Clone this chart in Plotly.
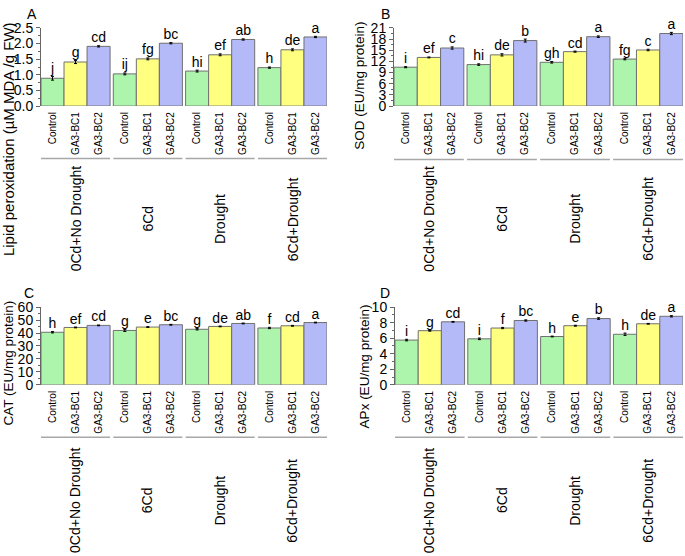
import plotly.graph_objects as go

W, H = 685, 556

groups = ["0Cd+No Drought", "6Cd", "Drought", "6Cd+Drought"]
treatments = ["Control", "GA3-BC1", "GA3-BC2"]
colors = ["#adf5ad", "#ffff80", "#b4b9f7"]

# values per group: [Control, GA3-BC1, GA3-BC2]
lipid = [[0.89, 1.41, 1.91], [1.03, 1.51, 2.01], [1.12, 1.64, 2.13], [1.23, 1.80, 2.21]]
lipid_err = [[0.06, 0.05, 0.02], [0.03, 0.03, 0.02], [0.03, 0.03, 0.02], [0.02, 0.03, 0.02]]
lipid_let = [["j", "g", "cd"], ["ij", "fg", "bc"], ["hi", "ef", "ab"], ["h", "de", "a"]]

sod = [[10.45, 13.07, 15.6], [11.15, 13.76, 17.6], [11.76, 14.63, 18.64], [12.63, 15.07, 19.5]]
sod_err = [[0.15, 0.12, 0.3], [0.2, 0.3, 0.4], [0.2, 0.15, 0.2], [0.2, 0.2, 0.3]]
sod_let = [["i", "ef", "c"], ["hi", "de", "b"], ["gh", "cd", "a"], ["fg", "c", "a"]]

cat = [[40.6, 44.3, 45.9], [42.0, 44.6, 46.4], [42.9, 45.1, 47.4], [43.9, 45.6, 48.1]]
cat_err = [[0.5, 0.3, 0.3], [0.8, 0.3, 0.3], [0.5, 0.3, 0.3], [0.5, 0.3, 0.3]]
cat_let = [["h", "ef", "cd"], ["g", "e", "bc"], ["g", "de", "ab"], ["f", "cd", "a"]]

apx = [[5.76, 6.97, 8.11], [5.92, 7.31, 8.28], [6.22, 7.61, 8.53], [6.51, 7.86, 8.82]]
apx_err = [[0.1, 0.06, 0.05], [0.1, 0.08, 0.08], [0.05, 0.06, 0.1], [0.15, 0.05, 0.08]]
apx_let = [["i", "g", "cd"], ["i", "f", "bc"], ["h", "e", "b"], ["h", "de", "a"]]

panels = [
    dict(letter="A", vals=lipid, err=lipid_err, let=lipid_let, yrange=[0, 2.5], dtick=0.5, fmt=".1f",
         title="Lipid peroxidation (µM MDA /g FW)", tsize=15, tx=8, ty=135,
         xd=(41, 327), yd=(20.5, 101), lx=32, ly=6, sep=155, gy=217),
    dict(letter="B", vals=sod, err=sod_err, let=sod_let, yrange=[0, 21], dtick=3, fmt="d",
         title="SOD (EU/mg protein)", tsize=13.5, tx=360, ty=80,
         xd=(394, 683), yd=(20.5, 101), lx=385, ly=6, sep=156, gy=217),
    dict(letter="C", vals=cat, err=cat_err, let=cat_let, yrange=[0, 60], dtick=10, fmt="d",
         title="CAT (EU/mg protein)", tsize=13.5, tx=8, ty=366,
         xd=(41, 327), yd=(308, 388), lx=29, ly=293, sep=442, gy=507),
    dict(letter="D", vals=apx, err=apx_err, let=apx_let, yrange=[0, 10], dtick=2, fmt="d",
         title="APx (EU/mg protein)", tsize=13.5, tx=364, ty=369,
         xd=(395, 683), yd=(308, 388), lx=385, ly=293, sep=442, gy=507),
]

FONT = "Liberation Sans, Arial, sans-serif"
GAP = 0.14
STEP = 3 + GAP

fig = go.Figure()
layout = dict(width=W, height=H, margin=dict(l=0, r=0, t=0, b=0),
              paper_bgcolor="white", plot_bgcolor="white", showlegend=False,
              barmode="overlay", font=dict(family=FONT, color="black"))
annotations = []
shapes = []

for p, pn in enumerate(panels):
    sfx = "" if p == 0 else str(p + 1)
    xa, ya = "x" + sfx, "y" + sfx
    for i, tname in enumerate(treatments):
        xs = [g * STEP + i for g in range(len(groups))]
        ys = [pn["vals"][g][i] for g in range(len(groups))]
        es = [pn["err"][g][i] for g in range(len(groups))]
        ls = [pn["let"][g][i] for g in range(len(groups))]
        fig.add_trace(go.Bar(x=xs, y=ys, width=1, xaxis=xa, yaxis=ya,
                             marker=dict(color=colors[i], line=dict(color="#707070", width=1)),
                             error_y=dict(type="data", array=es, color="black", thickness=1, width=1.5),
                             hoverinfo="skip"))
        fig.add_trace(go.Scatter(x=xs, y=[a + b for a, b in zip(ys, es)], text=ls, mode="text",
                                 textposition="top center", xaxis=xa, yaxis=ya,
                                 textfont=dict(size=14, family=FONT, color="black"),
                                 cliponaxis=False, hoverinfo="skip"))
    tickvals = [g * STEP + i for g in range(len(groups)) for i in range(3)]
    ticktext = [t for g in range(len(groups)) for t in treatments]
    x0, x1 = pn["xd"]
    y0, y1 = pn["yd"]
    layout["xaxis" + sfx] = dict(domain=[x0 / W, x1 / W], range=[-0.5, (len(groups) - 1) * STEP + 2.5],
                                 anchor=ya, tickvals=tickvals, ticktext=ticktext, tickangle=-90,
                                 tickfont=dict(size=10, family=FONT), showline=False, showgrid=False,
                                 zeroline=False, ticks="", ticklabelstandoff=3, fixedrange=True)
    layout["yaxis" + sfx] = dict(domain=[1 - y1 / H, 1 - y0 / H], range=pn["yrange"], anchor=xa,
                                 dtick=pn["dtick"], tickformat=pn["fmt"], showline=True, linecolor="#666666",
                                 linewidth=1, ticks="outside", ticklen=4, tickcolor="#666666",
                                 tickfont=dict(size=14, family=FONT), showgrid=False, zeroline=False,
                                 ticklabelstandoff=0,
                                 minor=dict(dtick=pn["dtick"] / 2, ticks="outside", ticklen=2,
                                            tickcolor="#666666", showgrid=False),
                                 fixedrange=True)
    annotations.append(dict(text=pn["letter"], x=pn["lx"] / W, y=1 - pn["ly"] / H, xref="paper", yref="paper",
                            showarrow=False, xanchor="center", yanchor="middle",
                            font=dict(size=14, family=FONT)))
    annotations.append(dict(text=pn["title"], x=pn["tx"] / W, y=1 - pn["ty"] / H, xref="paper", yref="paper",
                            showarrow=False, textangle=-90, xanchor="center", yanchor="middle",
                            borderpad=0, font=dict(size=pn["tsize"], family=FONT)))
    for g, gname in enumerate(groups):
        shapes.append(dict(type="line", xref=xa, yref="paper", x0=g * STEP - 0.5, x1=g * STEP + 2.5,
                           y0=1 - pn["sep"] / H, y1=1 - pn["sep"] / H,
                           line=dict(color="#a8a8a8", width=1.5)))
        annotations.append(dict(text=gname, x=g * STEP + 1, y=1 - pn["gy"] / H, xref=xa, yref="paper",
                                showarrow=False, textangle=-90, xanchor="center", yanchor="middle",
                                font=dict(size=14, family=FONT)))

layout["annotations"] = annotations
layout["shapes"] = shapes
fig.update_layout(**layout)
fig.write_html("out.html", config={"displayModeBar": False},
               post_script="document.body.style.margin='0';document.body.style.padding='0';"
                           "document.body.style.overflow='hidden';")
